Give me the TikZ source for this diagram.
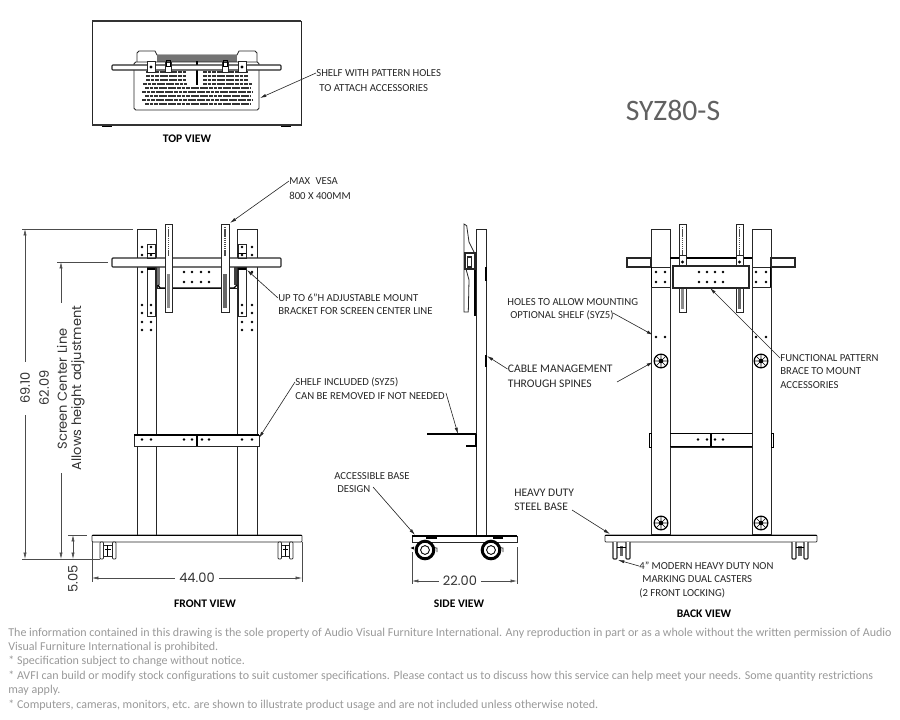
\documentclass[tikz,border=0pt]{standalone}
\usepackage{fontspec}
\usetikzlibrary{arrows.meta}
\setmainfont{Carlito}
\newfontfamily\dimfont{Poppins}
\tikzset{
  part/.style={draw=black!85,line width=0.45pt,fill=white},
  heavy/.style={draw=black!80,line width=1.1pt},
  leader/.style={draw=black!85,line width=0.35pt,->},
  dimline/.style={draw=black!70,line width=0.35pt},
  dimarrow/.style={draw=black!70,line width=0.35pt,<->},
  lbl/.style={anchor=west,inner sep=0pt,text=black!85,font=\fontsize{6.1}{8}\selectfont},
  biglbl/.style={anchor=west,inner sep=0pt,text=black!85,font=\fontsize{6.6}{8}\selectfont},
  viewlbl/.style={inner sep=0pt,text=black,font=\bfseries\fontsize{6.6}{8}\selectfont},
  dimlbl/.style={inner sep=0pt,rotate=90,text=black!80,font=\dimfont\fontsize{7.4}{9}\selectfont},
  hdim/.style={inner sep=2pt,text=black!80,font=\dimfont\fontsize{7.4}{9}\selectfont},
  note/.style={anchor=west,inner sep=0pt,text=black!40,font=\fontsize{6.84}{8}\selectfont},
  holerow/.style={draw=black!80,line width=0.85pt,dash pattern=on 2.2pt off 0.4pt},
  railfill/.style={draw=black!70,line width=1pt,dash pattern=on 0.8pt off 0.4pt}
}
\begin{document}
\begin{tikzpicture}[x=0.02cm,y=-0.02cm,>={Latex[length=3.6pt,width=1.8pt]}]
\useasboundingbox (0,0) rectangle (900,720);
% top view
\draw[part] (92,21) rectangle (301,125);
\draw[heavy] (92,21)--(301,21);
\draw[heavy] (92,125)--(301,125);
\fill (102,125.5) rectangle (112,127);
\fill (281,125.5) rectangle (291,127);
\draw[part] (137,62)--(137,53)--(139,51)--(155,51)--(157,55)--(237,55)--(239,51)--(255,51)--(257,53)--(257,62);
\fill[black!55] (157,55) rectangle (237,62);
\draw[part,rounded corners=1pt] (134,62) rectangle (259,110);
\draw[holerow] (146,72)--(187,72);
\draw[holerow] (203,72)--(248,72);
\draw[holerow] (146,76)--(187,76);
\draw[holerow] (203,76)--(248,76);
\draw[holerow] (146,80)--(187,80);
\draw[holerow] (203,80)--(248,80);
\draw[holerow] (143,84)--(187,84);
\draw[holerow] (203,84)--(252,84);
\draw[holerow] (145,88)--(251,88);
\draw[holerow] (142,92)--(252,92);
\draw[holerow] (145,96)--(251,96);
\draw[holerow] (142,100)--(252,100);
\draw[holerow] (145,104)--(251,104);
\draw[line width=0.8pt] (197,61)--(197,85);
\draw[part,line width=0.7pt,rounded corners=0.5pt] (112,65) rectangle (281,70);
\draw[part] (147,61) rectangle (155,72);
\draw[part] (238,61) rectangle (246,72);
\fill (151,67) circle (0.9pt);
\fill (242,67) circle (0.9pt);
\draw[part] (165,62) rectangle (171,72);
\draw[part] (222,62) rectangle (228,72);
\draw[line width=0.4pt] (166,60) rectangle (170,66);
\draw[line width=0.4pt] (223,60) rectangle (227,66);
\node[lbl] (shelfholes) at (316,73) {SHELF WITH PATTERN HOLES};
\node[lbl] (shelfholesb) at (319,88) {TO ATTACH ACCESSORIES};
\coordinate (shelfholestip) at (260,98);
\draw[leader] (shelfholes.west)--(shelfholestip);
\node[viewlbl] (topview) at (187,139) {TOP VIEW};
\node[inner sep=0pt,text=black!62,font=\fontsize{16.9}{18}\selectfont] (model) at (673,110) {SYZ80-S};
% front view
\draw[part] (137,229) rectangle (156,535);
\draw[part] (237,229) rectangle (257,535);
\fill (142,247) circle (0.8pt) (142,255) circle (0.8pt) (142,272) circle (0.8pt) (142,305) circle (0.8pt) (142,313) circle (0.8pt) (142,322) circle (0.8pt) (142,330) circle (0.8pt);
\fill (151,322) circle (0.8pt) (151,330) circle (0.8pt);
\fill (252,247) circle (0.8pt) (252,255) circle (0.8pt) (252,272) circle (0.8pt) (252,305) circle (0.8pt) (252,313) circle (0.8pt) (252,322) circle (0.8pt) (252,330) circle (0.8pt);
\fill (242,322) circle (0.8pt) (242,330) circle (0.8pt);
\draw[part] (157,266) rectangle (237,288);
\fill[black!55] (157,267) rectangle (160,285);
\fill[black!75] (234,267) rectangle (237,285);
\draw[line width=0.8pt] (158,285)--(160,288)--(234,288)--(237,285);
\fill (184,272) circle (0.8pt) (192,272) circle (0.8pt) (201,272) circle (0.8pt) (209,272) circle (0.8pt);
\fill (184,282) circle (0.8pt) (192,282) circle (0.8pt) (201,282) circle (0.8pt) (209,282) circle (0.8pt);
\draw[part,rounded corners=0.5pt,line width=0.7pt] (112,258) rectangle (281,267);
\draw[part,fill=none] (147,244) rectangle (155,258);
\draw[part,fill=none] (238,244) rectangle (246,258);
\draw[part] (147,267) rectangle (155,316);
\draw[part] (238,267) rectangle (246,316);
\draw[line width=0.4pt] (147,253)--(155,253);
\draw[line width=0.4pt] (238,253)--(246,253);
\draw[line width=0.9pt] (147,269)--(155,269);
\draw[line width=0.9pt] (238,269)--(246,269);
\fill (151,247) circle (0.8pt) (151,255) circle (0.8pt) (151,305) circle (0.8pt) (151,313) circle (0.8pt);
\fill (242,247) circle (0.8pt) (242,255) circle (0.8pt) (242,305) circle (0.8pt) (242,313) circle (0.8pt);
\draw[part] (165,224) rectangle (172,312);
\draw[part] (221,224) rectangle (229,312);
\draw[railfill] (168.5,227)--(168.5,256);
\draw[railfill] (225,227)--(225,256);
\draw[draw=black!45,line width=1.3pt] (168.5,274)--(168.5,308);
\draw[draw=black!60,line width=2pt] (225,274)--(225,308);
\draw[part] (134,435) rectangle (259,446);
\draw[line width=0.8pt] (134,435)--(259,435);
\draw[line width=0.7pt] (197,435)--(197,446);
\fill (142,439.5) circle (0.8pt) (151,439.5) circle (0.8pt) (184,439.5) circle (0.8pt) (192,439.5) circle (0.8pt);
\fill (202,439.5) circle (0.8pt) (209,439.5) circle (0.8pt) (242,439.5) circle (0.8pt) (252,439.5) circle (0.8pt);
\draw[part,rounded corners=0.5pt] (92,535) rectangle (302,542);
\draw[line width=0.9pt] (92,535.5)--(302,535.5);
\draw[part,rounded corners=0.5pt] (100,542) rectangle (103.5,559);
\draw[part,rounded corners=0.5pt] (112.5,542) rectangle (116,559);
\draw[part] (103.5,545) rectangle (112.5,556);
\draw[line width=0.5pt] (105,549)--(111,549);
\draw[line width=0.5pt] (107,545)--(107,556);
\draw[part,rounded corners=0.5pt] (278,542) rectangle (281.5,559);
\draw[part,rounded corners=0.5pt] (289.5,542) rectangle (293,559);
\draw[part] (281.5,545) rectangle (289.5,556);
\draw[line width=0.5pt] (283,549)--(288,549);
\draw[line width=0.5pt] (285.5,545)--(285.5,556);
% front dimensions
\coordinate (toptick) at (25,229);
\coordinate (shelftick) at (61,262);
\coordinate (basetick) at (25,559);
\draw[dimline] (22,229)--(133,229);
\draw[dimline] (57,262)--(108,262);
\draw[dimline] (22,559)--(100,559);
\draw[dimline] (68,535)--(87,535);
\node[dimlbl] (totalheight) at (25,388) {69.10};
\node[dimlbl] (centerheight) at (44,388) {62.09};
\node[dimlbl] (screenline) at (62,389) {Screen Center Line};
\node[dimlbl] (allows) at (78,388) {Allows height adjustment};
\node[dimlbl,anchor=center] (casterheight) at (73,579) {5.05};
\draw[dimline,<-] (toptick)--(25,362);
\draw[dimline,->] (25,415)--(basetick);
\draw[dimline,<-] (shelftick)--(61,303);
\draw[dimline,->] (61,473)--(61,559);
\draw[dimarrow] (73,535)--(73,559);
\draw[dimline] (92,542)--(92,582);
\draw[dimline] (302,542)--(302,582);
\node[hdim] (frontwidth) at (197,578) {44.00};
\coordinate (frontleft) at (92,578);
\coordinate (frontright) at (302,578);
\draw[dimline,<-] (frontleft)--(frontwidth.west);
\draw[dimline,<-] (frontright)--(frontwidth.east);
\node[viewlbl] (frontview) at (205,604) {FRONT VIEW};
% front labels
\node[lbl] (vesa) at (289,181) {MAX\enspace VESA};
\node[lbl] (vesab) at (289,196) {800 X 400MM};
\coordinate (vesatip) at (230,223);
\draw[leader] (vesa.west)--(vesatip);
\node[lbl] (bracket) at (278,298) {UP TO 6"H ADJUSTABLE MOUNT};
\node[lbl] (bracketb) at (278,311) {BRACKET FOR SCREEN CENTER LINE};
\coordinate (brackettip) at (247,270);
\draw[leader] (bracket.west)--(brackettip);
\node[lbl] (shelfinc) at (295,382) {SHELF INCLUDED (SYZ5)};
\node[lbl] (shelfincb) at (295,396) {CAN BE REMOVED IF NOT NEEDED};
\coordinate (shelfinctip) at (259,438);
\draw[leader] (shelfinc.west)--(shelfinctip);
% side view
\draw[part] (476,229) rectangle (486,535);
\draw[line width=0.9pt] (486,267)--(486,281);
\draw[line width=0.9pt] (486,355)--(486,367);
\draw[line width=1.2pt] (475,267)--(475,316);
\draw[part] (464,224)--(466.7,225.7)--(469,242)--(474,252)--(474,253)--(465,253)--(465,269)--(466,269)--(469,280)--(468.3,312)--(464,312)--cycle;
\draw[part,line width=0.6pt] (465,253) rectangle (475,269);
\draw[part,line width=0.6pt] (467.5,257) rectangle (471.5,267);
\draw[line width=0.8pt] (427,434)--(476,434);
\draw[line width=1pt] (466,446)--(476,446)--(476,434);
\draw[part] (412,536) rectangle (517,542);
\draw[line width=0.8pt] (412,536)--(517,536);
\draw[part] (427,542)--(427,547)--(437,548)--(437,552);
\draw[part] (493,542)--(493,547)--(503,548)--(503,552);
\draw[line width=0.9pt] (426,538)--(437,538);
\draw[line width=0.9pt] (493,538)--(503,538);
\draw[black,fill=white,line width=1.7pt] (425,550) circle (5pt);
\draw[black,fill=white,line width=0.5pt] (425,550) circle (2.5pt);
\draw[black,fill=white,line width=1.7pt] (491,550) circle (5pt);
\draw[black,fill=white,line width=0.5pt] (491,550) circle (2.5pt);
\fill (410.5,548)--(414,546.5)--(414,549.5)--cycle;
% side dimensions and labels
\draw[dimline] (412,552)--(412,584);
\draw[dimline] (517,547)--(517,584);
\node[hdim] (sidewidth) at (460,581) {22.00};
\coordinate (sideleft) at (412,581);
\coordinate (sideright) at (517,581);
\draw[dimline,<-] (sideleft)--(sidewidth.west);
\draw[dimline,<-] (sideright)--(sidewidth.east);
\node[viewlbl] (sideview) at (459,604) {SIDE VIEW};
\node[lbl] (basedesign) at (334,476) {ACCESSIBLE BASE};
\node[lbl] (basedesignb) at (337,489) {DESIGN};
\coordinate (basedesignstart) at (373,487);
\coordinate (basedesigntip) at (415,535);
\draw[leader] (basedesignstart)--(basedesigntip);
\coordinate (neededstart) at (446,393);
\coordinate (neededtip) at (458,434);
\draw[leader] (neededstart)--(neededtip);
\node[lbl] (mountholes) at (507,302) {HOLES TO ALLOW MOUNTING};
\node[lbl] (mountholesb) at (510,315) {OPTIONAL SHELF (SYZ5)};
\coordinate (mountholesstart) at (613,313);
\coordinate (mountholestip) at (653,335);
\draw[leader] (mountholesstart)--(mountholestip);
\node[biglbl] (cable) at (507.5,369) {CABLE MANAGEMENT};
\node[biglbl] (cableb) at (507.5,384) {THROUGH SPINES};
\coordinate (cabletip) at (487,356);
\draw[leader] (cable.west)--(cabletip);
\coordinate (spinestart) at (617,382);
\coordinate (spinetip) at (653,362);
\draw[leader] (spinestart)--(spinetip);
% back view
\draw[part] (651,229) rectangle (670,534);
\draw[part] (752,229) rectangle (771,534);
\draw[part] (670,433) rectangle (752,447);
\draw[line width=1pt] (670,433.5)--(752,433.5);
\draw[line width=1pt] (670,446.5)--(752,446.5);
\draw[line width=0.7pt] (711,433)--(711,447);
\fill (698,439.5) circle (0.8pt) (707,439.5) circle (0.8pt) (715,439.5) circle (0.8pt) (723,439.5) circle (0.8pt);
\draw[line width=0.4pt] (649,433) rectangle (651,447);
\draw[line width=0.4pt] (771,433) rectangle (773,447);
\draw[part] (679,224) rectangle (686,312);
\draw[part] (736,224) rectangle (743,312);
\draw[railfill] (682.5,227)--(682.5,256);
\draw[railfill] (739.5,227)--(739.5,256);
\draw[draw=black!45,line width=1.3pt] (682.5,288)--(682.5,309);
\draw[draw=black!60,line width=2pt] (739.5,288)--(739.5,309);
\draw[part,line width=0.7pt] (627,258)--(651,258)--(651,267)--(627,267)--cycle;
\draw[part,line width=0.7pt] (771,258)--(795,258)--(795,267)--(771,267)--cycle;
\draw[line width=0.7pt] (670,258)--(679,258);
\draw[line width=0.7pt] (686,258)--(736,258);
\draw[line width=0.7pt] (743,258)--(752,258);
\draw[part] (679,255) rectangle (686,265);
\draw[part] (736,255) rectangle (743,265);
\fill (682.5,262) circle (0.9pt);
\fill (739.5,262) circle (0.9pt);
\draw[part,line width=1.1pt] (673,266) rectangle (749,288);
\draw[part] (651,267) rectangle (670,287);
\draw[part] (752,267) rectangle (771,287);
\draw[line width=1.1pt] (651.5,267)--(651.5,287);
\draw[line width=1.1pt] (770.5,267)--(770.5,287);
\fill (656,272) circle (0.8pt) (665,272) circle (0.8pt) (656,282) circle (0.8pt) (665,282) circle (0.8pt);
\fill (756,272) circle (0.8pt) (766,272) circle (0.8pt) (756,282) circle (0.8pt) (766,282) circle (0.8pt);
\fill (699,272) circle (0.8pt) (707,272) circle (0.8pt) (715,272) circle (0.8pt) (723,272) circle (0.8pt);
\fill (699,282) circle (0.8pt) (707,282) circle (0.8pt) (715,282) circle (0.8pt) (723,282) circle (0.8pt);
\fill (656,337) circle (0.8pt) (665,337) circle (0.8pt) (756,337) circle (0.8pt) (766,337) circle (0.8pt);
\draw[line width=0.7pt] (661,361) circle (3.9pt);
\draw[line width=0.35pt] (654,361)--(668,361) (661,354)--(661,368) (656,356)--(666,366) (656,366)--(666,356);
\fill (661,361) circle (1.3pt);
\draw[line width=0.7pt] (761,361) circle (3.9pt);
\draw[line width=0.35pt] (754,361)--(768,361) (761,354)--(761,368) (756,356)--(766,366) (756,366)--(766,356);
\fill (761,361) circle (1.3pt);
\draw[line width=0.7pt] (661,523) circle (3.9pt);
\draw[line width=0.35pt] (654,523)--(668,523) (661,516)--(661,530) (656,518)--(666,528) (656,528)--(666,518);
\fill (661,523) circle (1.3pt);
\draw[line width=0.7pt] (761,523) circle (3.9pt);
\draw[line width=0.35pt] (754,523)--(768,523) (761,516)--(761,530) (756,518)--(766,528) (756,528)--(766,518);
\fill (761,523) circle (1.3pt);
\draw[part,rounded corners=0.5pt] (605,535) rectangle (817,542);
\draw[line width=0.9pt] (605,535.5)--(817,535.5);
\draw[part,line width=0.6pt,rounded corners=0.5pt] (613,542)--(613,559)--(617,559)--(617,542);
\draw[part,line width=0.6pt,rounded corners=0.5pt] (626,542)--(626,559)--(630,559)--(630,542);
\draw[draw=black!60,line width=1.8pt] (621.5,546)--(621.5,556);
\draw[line width=0.4pt] (617,547)--(626,547);
\draw[part,line width=0.6pt,rounded corners=0.5pt] (792,542)--(792,559)--(796,559)--(796,542);
\draw[part,line width=0.6pt,rounded corners=0.5pt] (804,542)--(804,559)--(808,559)--(808,542);
\draw[draw=black!60,line width=1.8pt] (800,546)--(800,556);
\draw[line width=0.4pt] (796,547)--(804,547);
% back labels
\node[lbl] (brace) at (780,358) {FUNCTIONAL PATTERN};
\node[lbl] (braceb) at (780,371) {BRACE TO MOUNT};
\node[lbl] (bracec) at (780,385) {ACCESSORIES};
\coordinate (bracetip) at (710,288);
\draw[leader] (brace.west)--(bracetip);
\node[biglbl] (steel) at (514,492.5) {HEAVY DUTY};
\node[biglbl] (steelb) at (514,507) {STEEL BASE};
\coordinate (steelstart) at (572,510);
\coordinate (steeltip) at (610,534);
\draw[leader] (steelstart)--(steeltip);
\node[lbl] (caster) at (639,566) {4" MODERN HEAVY DUTY NON};
\node[lbl] (casterb) at (642,579) {MARKING DUAL CASTERS};
\node[lbl] (casterc) at (639,593) {(2 FRONT LOCKING)};
\coordinate (castertip) at (618,560);
\draw[leader] (caster.west)--(castertip);
\node[viewlbl] (backview) at (704,614) {BACK VIEW};
% notes
\node[note] (notea) at (8,633) {The information contained in this drawing is the sole property of Audio Visual Furniture International. Any reproduction in part or as a whole without the written permission of Audio};
\node[note] (noteb) at (8,647) {Visual Furniture International is prohibited.};
\node[note] (notec) at (8,661.5) {* Specification subject to change without notice.};
\node[note] (noted) at (8,676) {* AVFI can build or modify stock configurations to suit customer specifications. Please contact us to discuss how this service can help meet your needs. Some quantity restrictions};
\node[note] (notee) at (8,690.5) {may apply.};
\node[note] (notef) at (8,705) {* Computers, cameras, monitors, etc. are shown to illustrate product usage and are not included unless otherwise noted.};
\end{tikzpicture}
\end{document}
